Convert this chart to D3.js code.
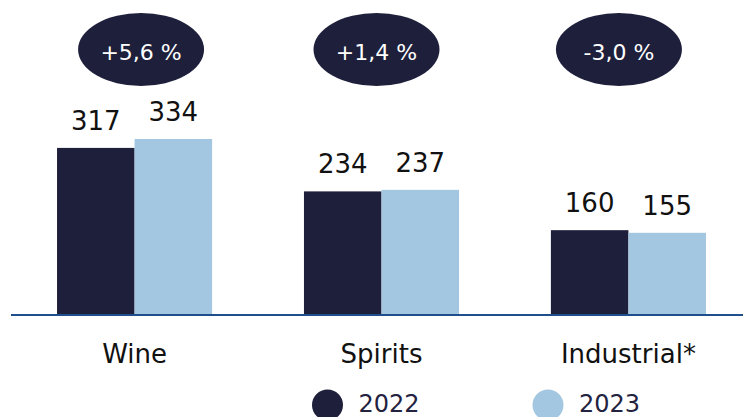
<!DOCTYPE html>
<html>
<head>
<meta charset="utf-8">
<script src="https://cdn.jsdelivr.net/npm/d3@7"></script>
<style>
  html, body { margin: 0; padding: 0; background: #fff; }
  #chart { width: 743px; height: 417px; overflow: hidden; }
  text { font-family: 'Century Gothic', 'DejaVu Sans', sans-serif; }
</style>
</head>
<body>
<div id="chart"></div>
<script>
///// DATOS /////
let categories = ['Wine', 'Spirits', 'Industrial*'];
let years = ['2022', '2023'];
let values2022 = [317, 234, 160];
let values2023 = [334, 237, 155];
let changes = ['+5,6 %', '+1,4 %', '-3,0 %'];

let colors = ['#1e1f3b', '#a3c7e1'];
let badgeNudge = [6.5, -5, -9.5]; // los óvalos no están centrados del todo en el original

let width = 743, height = 417;
let baseY = 314;

let svg = d3.select('#chart')
    .append('svg')
    .attr('width', width)
    .attr('height', height);

let rows = categories.map(function(c, i) {
    return { cat: c, vals: [values2022[i], values2023[i]], change: changes[i] };
});

let x = d3.scaleBand()
    .domain(categories)
    .range([20, width])
    .paddingInner(0.372)
    .paddingOuter(0.15);

let xIn = d3.scaleBand()
    .domain(years)
    .range([0, x.bandwidth()]);

let y = d3.scaleLinear()
    .domain([0, 334])
    .range([baseY, 139]);

//Barras
let groups = svg.selectAll('.group')
    .data(rows)
    .enter()
    .append('g')
    .attr('class', 'group')
    .attr('transform', function(d) { return 'translate(' + x(d.cat) + ',0)'; });

groups.selectAll('rect')
    .data(function(d) { return d.vals.map(function(v, i) { return { year: years[i], v: v }; }); })
    .enter()
    .append('rect')
    .attr('x', function(d) { return xIn(d.year); })
    .attr('y', function(d) { return y(d.v); })
    .attr('width', xIn.bandwidth())
    .attr('height', function(d) { return y(0) - y(d.v); })
    .attr('fill', function(d, i) { return colors[i]; });

//Valores
groups.selectAll('.val')
    .data(function(d) { return d.vals.map(function(v, i) { return { year: years[i], v: v }; }); })
    .enter()
    .append('text')
    .attr('class', 'val')
    .attr('x', function(d) { return xIn(d.year) + xIn.bandwidth() / 2; })
    .attr('y', function(d) { return y(d.v) - 18; })
    .attr('text-anchor', 'middle')
    .attr('font-size', 26)
    .attr('fill', '#111')
    .text(function(d) { return d.v; });

//Eje
svg.append('line')
    .attr('x1', 11)
    .attr('x2', width)
    .attr('y1', y(0) + 1)
    .attr('y2', y(0) + 1)
    .attr('stroke', '#1f4e8c')
    .attr('stroke-width', 2);

//Categorías
svg.selectAll('.cat')
    .data(categories)
    .enter()
    .append('text')
    .attr('class', 'cat')
    .attr('x', function(d) { return x(d) + x.bandwidth() / 2; })
    .attr('y', 362.5)
    .attr('text-anchor', 'middle')
    .attr('font-size', 26)
    .attr('fill', '#111')
    .text(function(d) { return d; });

//Óvalos de variación
let badges = svg.selectAll('.badge')
    .data(rows)
    .enter()
    .append('g')
    .attr('class', 'badge')
    .attr('transform', function(d, i) {
        return 'translate(' + (x(d.cat) + x.bandwidth() / 2 + badgeNudge[i]) + ',49.5)';
    });

badges.append('ellipse')
    .attr('rx', 63)
    .attr('ry', 36.5)
    .attr('fill', colors[0]);

badges.append('text')
    .attr('text-anchor', 'middle')
    .attr('y', 10)
    .attr('font-size', 22)
    .attr('fill', '#fff')
    .text(function(d) { return d.change; });

//Leyenda
let legendX = [327.5, 548];
let legend = svg.selectAll('.legend')
    .data(years)
    .enter()
    .append('g')
    .attr('class', 'legend')
    .attr('transform', function(d, i) { return 'translate(' + legendX[i] + ',405)'; });

legend.append('circle')
    .attr('r', 15.5)
    .attr('fill', function(d, i) { return colors[i]; });

legend.append('text')
    .attr('x', 31)
    .attr('y', 7)
    .attr('font-size', 24)
    .attr('fill', '#23233f')
    .text(function(d) { return d; });
</script>
</body>
</html>
